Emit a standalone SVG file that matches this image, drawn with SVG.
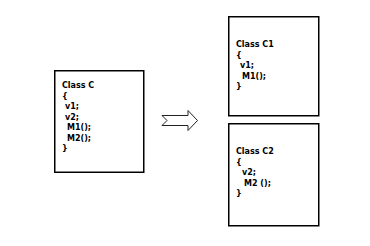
<svg xmlns="http://www.w3.org/2000/svg" width="370" height="246" viewBox="0 0 370 246">
<style>
.box{fill:#fff;stroke:#000;stroke-width:1.5}
.t{font-family:"DejaVu Sans","Liberation Sans",sans-serif;font-size:8px;font-weight:bold;fill:#000}
.arr{fill:#fff;stroke:#222;stroke-width:1}
</style>
<rect width="370" height="246" fill="#fff"/>
<g id="classC">
<rect class="box" x="54.75" y="70.75" width="89" height="101.5"/>
<text class="t" x="62" y="88">Class C</text>
<text class="t" x="62" y="98.5">{</text>
<text class="t" x="65" y="109">v1;</text>
<text class="t" x="65" y="119.5">v2;</text>
<text class="t" x="67" y="130">M1();</text>
<text class="t" x="67" y="140.5">M2();</text>
<text class="t" x="62" y="151">}</text>
</g>
<g id="classC1">
<rect class="box" x="228.75" y="16.75" width="90" height="99"/>
<text class="t" x="236" y="47">Class C1</text>
<text class="t" x="236" y="57.5">{</text>
<text class="t" x="240" y="68">v1;</text>
<text class="t" x="242" y="78.5">M1();</text>
<text class="t" x="236" y="89">}</text>
</g>
<g id="classC2">
<rect class="box" x="228.75" y="123.75" width="90" height="102"/>
<text class="t" x="236" y="154">Class C2</text>
<text class="t" x="236" y="164.5">{</text>
<text class="t" x="242" y="175">v2;</text>
<text class="t" x="244" y="185.5">M2 ();</text>
<text class="t" x="236" y="196">}</text>
</g>
<g id="connectors">
<polygon class="arr" points="162,115.5 188,115.5 188,110.5 197.5,120.5 188,130.5 188,125.5 162,125.5 167,120.5"/>
</g>
</svg>
